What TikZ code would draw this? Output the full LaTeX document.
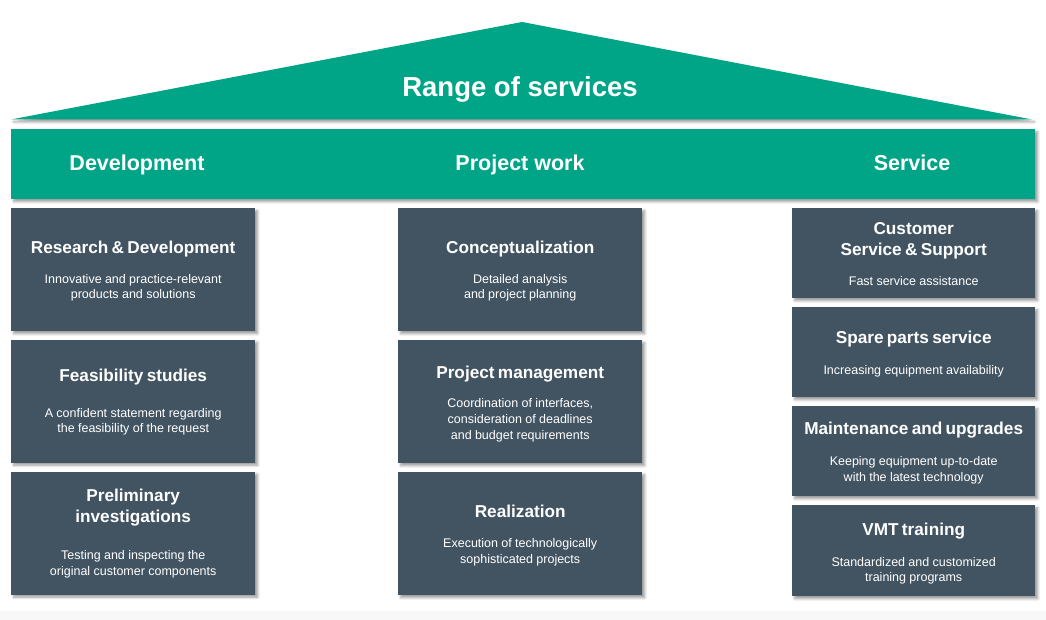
\documentclass[tikz,border=0pt]{standalone}
\usepackage{fontspec}
\setmainfont{Liberation Sans}
\usetikzlibrary{shadows.blur}
\definecolor{vgreen}{RGB}{0,164,134}
\definecolor{vdark}{RGB}{66,84,98}
\definecolor{vstrip}{RGB}{248,248,248}
\tikzset{
  sh/.style={blur shadow={shadow xshift=2.5pt,shadow yshift=-2.5pt,shadow blur steps=6,shadow blur radius=2.5pt,shadow opacity=40}},
  tile/.style={sh,fill=vdark,anchor=north west,minimum width=244pt,inner sep=0pt},
  tiletext/.style={text=white,inner sep=0pt,align=center,text width=240pt},
  head/.style={text=white,anchor=base,font=\fontsize{21.5}{26}\selectfont\bfseries},
}
\newcommand{\ttl}[1]{{\fontsize{17.2}{21}\selectfont\bfseries #1\par}}
\newcommand{\sbt}[1]{{\fontsize{12.5}{15.7}\selectfont #1\par}}
\begin{document}
\begin{tikzpicture}[x=1pt,y=-1pt]
\useasboundingbox (0,0) rectangle (1046,620);
\fill[vstrip] (0,611) rectangle (1046,620);
% roof
\fill[vgreen,sh] (11,119.5) -- (522,22) -- (1032,119.5) -- cycle;
\node[text=white,font=\fontsize{27.5}{32}\selectfont\bfseries] (roof) at (520,89) {Range of services};
% band
\node[sh,fill=vgreen,anchor=north west,minimum width=1024pt,minimum height=70pt,inner sep=0pt] (band) at (11,129) {};
\node[head] (hdev) at (137,171) {Development};
\node[head] (hproj) at (520,171) {Project work};
\node[head] (hserv) at (912,171) {Service};
% left column
\node[tile,minimum height=123pt] (rd) at (11,208) {};
\node[tiletext] (rdt) at ([yshift=-1.5pt]rd.center) {\ttl{Research \& Development}\vspace{14pt}\sbt{Innovative and practice-relevant\\products and solutions}};
\node[tile,minimum height=123pt] (fs) at (11,339.5) {};
\node[tiletext] (fst) at ([yshift=-1pt]fs.center) {\ttl{Feasibility studies}\vspace{20pt}\sbt{A confident statement regarding\\the feasibility of the request}};
\node[tile,minimum height=123pt] (pi) at (11,471.5) {};
\node[tiletext] (pit) at ([yshift=-0.5pt]pi.center) {\ttl{Preliminary\\investigations}\vspace{21pt}\sbt{Testing and inspecting the\\original customer components}};
% middle column
\node[tile,minimum height=123pt] (co) at (398,208) {};
\node[tiletext] (cot) at ([yshift=-1.5pt]co.center) {\ttl{Conceptualization}\vspace{14pt}\sbt{Detailed analysis\\and project planning}};
\node[tile,minimum height=123pt] (pm) at (398,340) {};
\node[tiletext] (pmt) at ([yshift=-2pt]pm.center) {\ttl{Project management}\vspace{14pt}\sbt{Coordination of interfaces,\\consideration of deadlines\\and budget requirements}};
\node[tile,minimum height=123pt] (re) at (398,472) {};
\node[tiletext] (ret) at ([yshift=-2pt]re.center) {\ttl{Realization}\vspace{14pt}\sbt{Execution of technologically\\sophisticated projects}};
% right column
\node[tile,minimum width=243pt,minimum height=90pt] (cs) at (792,208) {};
\node[tiletext] (cst) at ([yshift=-1pt]cs.center) {\ttl{Customer\\Service \& Support}\vspace{15pt}\sbt{Fast service assistance}};
\node[tile,minimum width=243pt,minimum height=90pt] (sp) at (792,307) {};
\node[tiletext] (spt) at ([yshift=-2pt]sp.center) {\ttl{Spare parts service}\vspace{15pt}\sbt{Increasing equipment availability}};
\node[tile,minimum width=243pt,minimum height=90pt] (mu) at (792,406) {};
\node[tiletext] (mut) at ([yshift=-2pt]mu.center) {\ttl{Maintenance and upgrades}\vspace{15pt}\sbt{Keeping equipment up-to-date\\with the latest technology}};
\node[tile,minimum width=243pt,minimum height=91pt] (vt) at (792,505) {};
\node[tiletext] (vtt) at ([yshift=-3pt]vt.center) {\ttl{VMT training}\vspace{15pt}\sbt{Standardized and customized\\training programs}};
\end{tikzpicture}
\end{document}
